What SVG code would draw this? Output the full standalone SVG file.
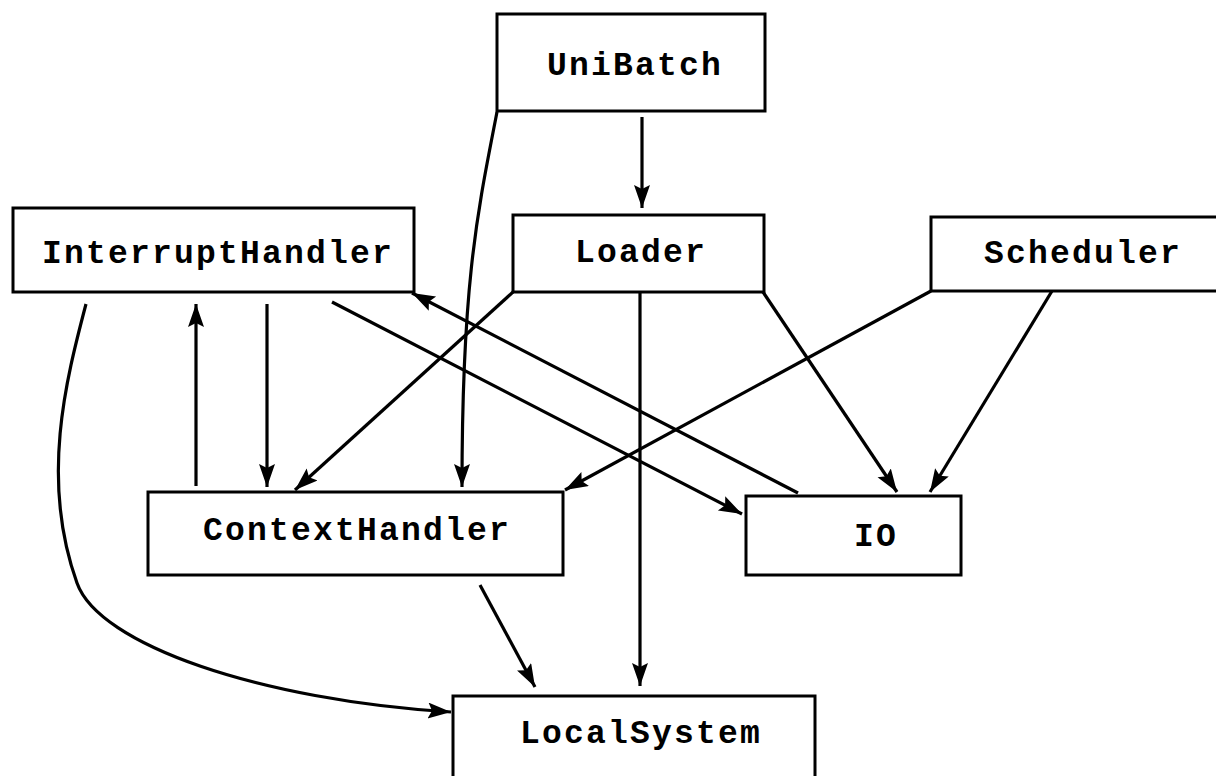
<svg xmlns="http://www.w3.org/2000/svg" width="1216" height="776" viewBox="0 0 1216 776">
  <style>
    .box { fill: #ffffff; stroke: #000000; stroke-width: 3; }
    .label { font-family: "Liberation Mono", "Courier New", monospace; font-size: 33px; font-weight: bold; letter-spacing: 2.2px; fill: #000000; text-anchor: middle; }
    .edge { fill: none; stroke: #000000; stroke-width: 3.2; marker-end: url(#arrow); }
  </style>
  <defs>
    <marker id="arrow" markerUnits="userSpaceOnUse" markerWidth="26" markerHeight="18" refX="23" refY="8" orient="auto">
      <path d="M0,0 L23,8 L0,16 L4,8 z" fill="#000000"/>
    </marker>
  </defs>
  <rect width="1216" height="776" fill="#ffffff"/>

  <!-- connectors -->
  <g id="connectors">
    <!-- UniBatch -> Loader -->
    <path class="edge" d="M642,117 L642,208"/>
    <!-- UniBatch -> ContextHandler -->
    <path class="edge" d="M497,112 C478,210 462,280 462,487"/>
    <!-- InterruptHandler -> ContextHandler -->
    <path class="edge" d="M267,304 L267,487"/>
    <!-- ContextHandler -> InterruptHandler -->
    <path class="edge" d="M196,486 L196,304"/>
    <!-- InterruptHandler -> IO -->
    <path class="edge" d="M332,302 L742,514"/>
    <!-- IO -> InterruptHandler -->
    <path class="edge" d="M798,493 L412,293"/>
    <!-- Loader -> ContextHandler -->
    <path class="edge" d="M513,292 L295,490"/>
    <!-- Loader -> LocalSystem -->
    <path class="edge" d="M640,292 L640,686"/>
    <!-- Loader -> IO -->
    <path class="edge" d="M763,292 L897,492"/>
    <!-- Scheduler -> ContextHandler -->
    <path class="edge" d="M931,291 L565,490"/>
    <!-- Scheduler -> IO -->
    <path class="edge" d="M1052,291 L930,492"/>
    <!-- ContextHandler -> LocalSystem -->
    <path class="edge" d="M480,585 L535,687"/>
    <!-- InterruptHandler -> LocalSystem -->
    <path class="edge" d="M86,304 C66,380 40,480 77,583 C99,645 260,700 451,712"/>
  </g>

  <g id="UniBatch">
    <rect class="box" x="497" y="14" width="268" height="97"/>
    <text class="label" x="635" y="75">UniBatch</text>
  </g>

  <g id="InterruptHandler">
    <rect class="box" x="13" y="208" width="401" height="84"/>
    <text class="label" x="218" y="263">InterruptHandler</text>
  </g>

  <g id="Loader">
    <rect class="box" x="513" y="215" width="251" height="77"/>
    <text class="label" x="641" y="262">Loader</text>
  </g>

  <g id="Scheduler">
    <rect class="box" x="931" y="217" width="300" height="74"/>
    <text class="label" x="1083" y="263">Scheduler</text>
  </g>

  <g id="ContextHandler">
    <rect class="box" x="148" y="492" width="415" height="83"/>
    <text class="label" x="357" y="540">ContextHandler</text>
  </g>

  <g id="IO">
    <rect class="box" x="746" y="496" width="215" height="79"/>
    <text class="label" x="876" y="546">IO</text>
  </g>

  <g id="LocalSystem">
    <rect class="box" x="453" y="696" width="362" height="100"/>
    <text class="label" x="641" y="743">LocalSystem</text>
  </g>
</svg>
